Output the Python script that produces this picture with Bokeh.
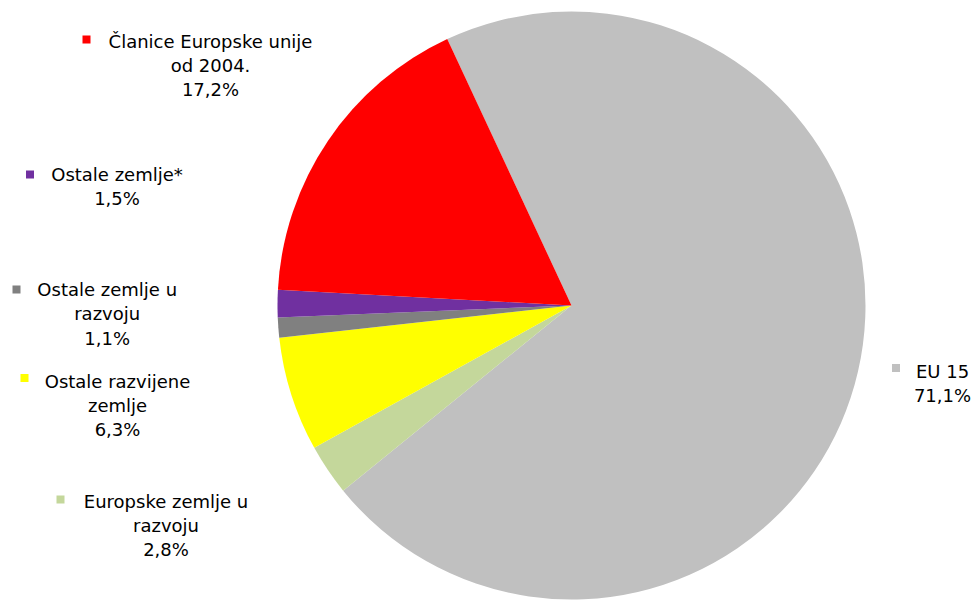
import numpy as np
from bokeh.plotting import figure
from bokeh.models import Range1d, ColumnDataSource
from bokeh.core.properties import value
from bokeh.embed import file_html
from bokeh.resources import INLINE

# ---- data ----
categories = ["EU 15", "Europske zemlje u razvoju", "Ostale razvijene zemlje",
              "Ostale zemlje u razvoju", "Ostale zemlje*", "Članice Europske unije od 2004."]
shares = [71.1, 2.8, 6.3, 1.1, 1.5, 17.2]
colors = ["#C0C0C0", "#C4D79B", "#FFFF00", "#808080", "#7030A0", "#FF0000"]
label_lines = [["EU 15"], ["Europske zemlje u", "razvoju"], ["Ostale razvijene", "zemlje"],
               ["Ostale zemlje u", "razvoju"], ["Ostale zemlje*"], ["Članice Europske unije", "od 2004."]]

# ---- layout (image pixel coordinates) ----
W, H = 978, 600
def X(px): return px
def Y(py): return H - py

PIE_CX, PIE_CY, PIE_R = 571, 305, 294
START_DEG = 335.0  # clockwise from 12 o'clock
LINE_GAP = 24.3
# text centre x, first line y, marker x, marker y
label_pos = [
    (942, 370.8, 895.5, 367.5),
    (165.5, 500.7, 60, 499),
    (117, 380.7, 24, 377.5),
    (106.7, 289, 16, 289),
    (116.5, 174, 29.5, 174),
    (210, 40.7, 86, 39),
]

p = figure(width=W, height=H, x_range=Range1d(0, W), y_range=Range1d(0, H),
           output_backend="svg", toolbar_location=None, min_border=0)
p.axis.visible = False
p.grid.visible = False
p.outline_line_color = None
p.background_fill_color = "white"
p.border_fill_color = "white"

total = float(sum(shares))
vals = np.array(shares)
cum = np.concatenate([[0.0], np.cumsum(vals)[:-1]])
theta_start = START_DEG + cum / total * 360.0
theta_end = theta_start + vals / total * 360.0
start_ang = np.radians(90.0 - theta_start)
end_ang = np.radians(90.0 - theta_end)

src = ColumnDataSource(dict(cat=categories, start=start_ang, end=end_ang, color=colors))
p.wedge(x=X(PIE_CX), y=Y(PIE_CY), radius=PIE_R, start_angle="start", end_angle="end",
        direction="clock", fill_color="color", line_color=None, source=src)

tx, ty, tt = [], [], []
mx, my, mc = [], [], []
for i, cat in enumerate(categories):
    cx, y0, mkx, mky = label_pos[i]
    lines = label_lines[i] + [f"{shares[i]:.1f}".replace(".", ",") + "%"]
    for j, ln in enumerate(lines):
        tx.append(X(cx)); ty.append(Y(y0 + j * LINE_GAP)); tt.append(ln)
    mx.append(X(mkx)); my.append(Y(mky)); mc.append(colors[i])

p.scatter(x=mx, y=my, marker="square", size=8, fill_color=mc, line_color=None)
p.text(x=tx, y=ty, text=tt, text_font=value("DejaVu Sans"), text_font_size="18px",
       text_align="center", text_baseline="middle", text_color="black")

open("out.html", "w").write(file_html(p, INLINE))
